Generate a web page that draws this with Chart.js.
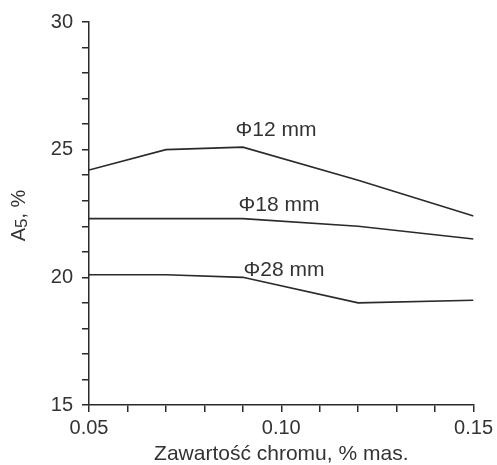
<!DOCTYPE html>
<html>
<head>
<meta charset="utf-8">
<script src="https://cdn.jsdelivr.net/npm/chart.js@4.4.0/dist/chart.umd.min.js"></script>
<style>
  html, body { margin: 0; padding: 0; background: #fff; }
  #wrap { width: 497px; height: 465px; }
</style>
</head>
<body>
<div id="wrap"><canvas id="chart"></canvas></div>
<script>
// chromium content, % mass
const chromium = [0.05, 0.07, 0.09, 0.12, 0.15];
// elongation A5, % for each bar diameter
const a5_12mm = [24.2, 25.0, 25.1, 23.8, 22.4];
const a5_18mm = [22.3, 22.3, 22.3, 22.0, 21.5];
const a5_28mm = [20.1, 20.1, 20.0, 19.0, 19.1];
const seriesNames = ["\u03A612 mm", "\u03A618 mm", "\u03A628 mm"];
// where each curve label sits (data coords: left x, middle y)
const labelX = [0.0881, 0.0889, 0.0902];
const labelY = [25.76, 22.82, 20.27];

const ink = "#2a2a2a";
const textInk = "#333";
const font = "Arial, 'Liberation Sans', sans-serif";

function toPoints(ys) {
  return chromium.map((x, i) => ({ x: x, y: ys[i] }));
}

const curveLabels = {
  id: "curveLabels",
  afterDatasetsDraw(chart) {
    const ctx = chart.ctx;
    const xs = chart.scales.x, ys = chart.scales.y;
    ctx.save();
    ctx.fillStyle = textInk;
    ctx.font = "21px " + font;
    ctx.textBaseline = "middle";
    ctx.textAlign = "left";
    seriesNames.forEach((name, i) => {
      ctx.fillText(name, xs.getPixelForValue(labelX[i]), ys.getPixelForValue(labelY[i]));
    });
    ctx.restore();
  }
};

// y title with a subscripted 5
const yTitle = {
  id: "yTitle",
  afterDraw(chart) {
    const ctx = chart.ctx;
    const area = chart.chartArea;
    ctx.save();
    ctx.translate(19, (area.top + area.bottom) / 2 + 2);
    ctx.rotate(-Math.PI / 2);
    ctx.fillStyle = textInk;
    ctx.textBaseline = "middle";
    ctx.textAlign = "left";
    const big = "20px " + font, small = "17px " + font;
    ctx.font = big;
    const wA = ctx.measureText("A").width;
    const wRest = ctx.measureText(", %").width;
    ctx.font = small;
    const w5 = ctx.measureText("5").width;
    let x = -(wA + w5 + wRest) / 2;
    ctx.font = big;
    ctx.fillText("A", x, 0);
    x += wA;
    ctx.font = small;
    ctx.fillText("5", x, 3);
    x += w5;
    ctx.font = big;
    ctx.fillText(", %", x, 0);
    ctx.restore();
  }
};

const lineStyle = {
  borderColor: ink,
  borderWidth: 1.6,
  pointRadius: 0,
  tension: 0,
  fill: false
};

new Chart(document.getElementById("chart"), {
  type: "line",
  data: {
    datasets: [
      Object.assign({ label: seriesNames[0], data: toPoints(a5_12mm) }, lineStyle),
      Object.assign({ label: seriesNames[1], data: toPoints(a5_18mm) }, lineStyle),
      Object.assign({ label: seriesNames[2], data: toPoints(a5_28mm) }, lineStyle)
    ]
  },
  options: {
    responsive: true,
    maintainAspectRatio: false,
    animation: false,
    layout: { padding: { top: 22, right: 22, left: 0, bottom: 0 } },
    plugins: { legend: { display: false }, tooltip: { enabled: false } },
    scales: {
      x: {
        type: "linear",
        min: 0.05,
        max: 0.15,
        afterFit: (s) => { s.height = 60; },
        border: { color: ink, width: 1.5 },
        grid: { drawOnChartArea: false, color: ink, lineWidth: 1.5, tickLength: 7 },
        ticks: {
          stepSize: 0.01,
          color: textInk,
          padding: 4,
          maxRotation: 0,
          autoSkip: false,
          font: { size: 20, family: font },
          callback: (v) => (Math.round(v * 100) % 5 === 0 ? v.toFixed(2) : "")
        },
        title: {
          display: true,
          text: "Zawartość chromu, % mas.",
          color: textInk,
          padding: { top: 0, bottom: -2 },
          font: { size: 21, family: font }
        }
      },
      y: {
        min: 15,
        max: 30,
        afterFit: (s) => { s.width = 89; },
        border: { color: ink, width: 1.5 },
        grid: { drawOnChartArea: false, color: ink, lineWidth: 1.5, tickLength: 7 },
        ticks: {
          stepSize: 1,
          color: textInk,
          padding: 9,
          autoSkip: false,
          font: { size: 20, family: font },
          callback: (v) => (v % 5 === 0 ? String(v) : "")
        }
      }
    }
  },
  plugins: [curveLabels, yTitle]
});
</script>
</body>
</html>
